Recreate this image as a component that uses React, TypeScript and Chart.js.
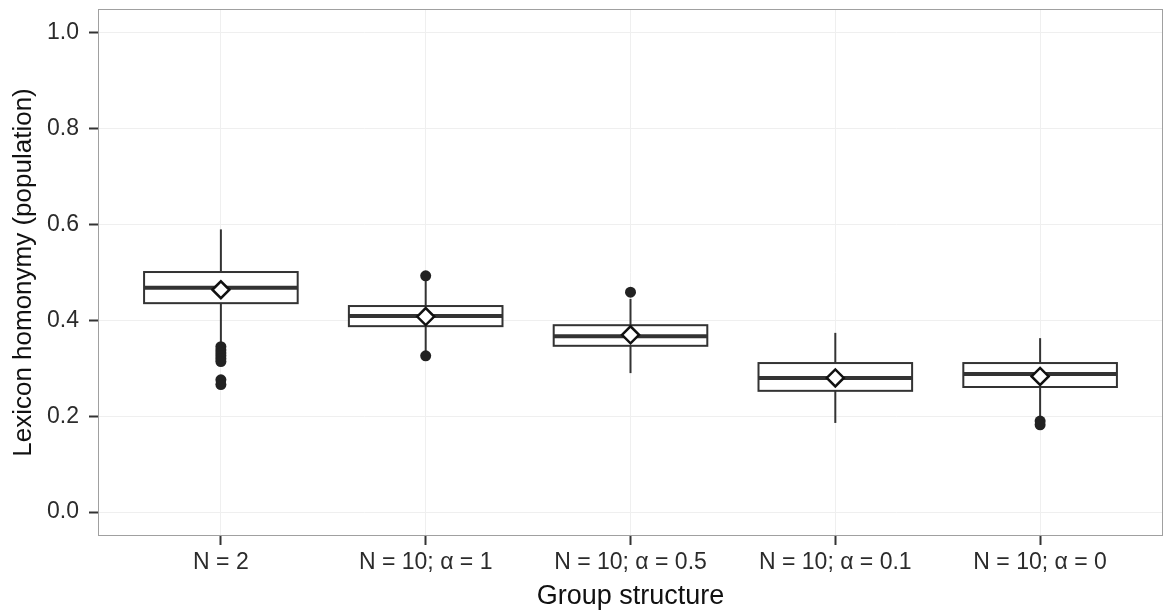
import React, { useEffect, useRef } from "react";
import { Chart, registerables } from "chart.js";

Chart.register(...registerables);

const categories = ["N = 2", "N = 10; α = 1", "N = 10; α = 0.5", "N = 10; α = 0.1", "N = 10; α = 0"];
const whiskerLow = [0.355, 0.335, 0.29, 0.186, 0.2];
const q1 = [0.436, 0.388, 0.347, 0.253, 0.261];
const medians = [0.468, 0.409, 0.367, 0.28, 0.288];
const q3 = [0.501, 0.43, 0.39, 0.311, 0.311];
const whiskerHigh = [0.59, 0.485, 0.445, 0.374, 0.363];
const means = [0.464, 0.408, 0.37, 0.28, 0.283];
const outliersN2 = [0.345, 0.338, 0.332, 0.326, 0.32, 0.314, 0.276, 0.266];
const outliersA1 = [0.493, 0.326];
const outliersA05 = [0.459];
const outliersA01: number[] = [];
const outliersA0 = [0.19, 0.182];
const yTicks = [0, 0.2, 0.4, 0.6, 0.8, 1.0];

const outlierGroups = [outliersN2, outliersA1, outliersA05, outliersA01, outliersA0];

const FONT = "'Liberation Sans', Arial, Helvetica, sans-serif";

const boxPlugin = {
  id: "boxes",
  beforeDatasetsDraw(chart: any) {
    const { ctx, chartArea, scales } = chart;
    const x = scales.x;
    const y = scales.y;
    ctx.save();
    ctx.strokeStyle = "#a0a0a0";
    ctx.lineWidth = 1;
    ctx.strokeRect(chartArea.left + 0.5, chartArea.top + 0.5, chartArea.right - chartArea.left - 1, chartArea.bottom - chartArea.top - 1);

    const line = (x1: number, y1: number, x2: number, y2: number) => {
      ctx.beginPath();
      ctx.moveTo(x1, y1);
      ctx.lineTo(x2, y2);
      ctx.stroke();
    };
    categories.forEach((_, i) => {
      const cx = x.getPixelForValue(i + 1);
      const l = x.getPixelForValue(i + 1 - 0.375);
      const r = x.getPixelForValue(i + 1 + 0.375);
      const yq1 = y.getPixelForValue(q1[i]);
      const yq3 = y.getPixelForValue(q3[i]);
      ctx.strokeStyle = "#333333";
      ctx.lineWidth = 2;
      line(cx, y.getPixelForValue(whiskerHigh[i]), cx, yq3);
      line(cx, yq1, cx, y.getPixelForValue(whiskerLow[i]));
      ctx.fillStyle = "#ffffff";
      ctx.fillRect(l, yq3, r - l, yq1 - yq3);
      ctx.strokeRect(l, yq3, r - l, yq1 - yq3);
      ctx.lineWidth = 4;
      const ym = y.getPixelForValue(medians[i]);
      line(l, ym, r, ym);
    });
    ctx.restore();
  },
};

export default function App() {
  const ref = useRef<HTMLCanvasElement | null>(null);
  useEffect(() => {
    if (!ref.current) return;
    const outlierData: { x: number; y: number }[] = [];
    outlierGroups.forEach((g, i) => g.forEach((v) => outlierData.push({ x: i + 1, y: v })));
    const meanData = means.map((v, i) => ({ x: i + 1, y: v }));
    const chart = new Chart(ref.current, {
      type: "scatter",
      data: {
        datasets: [
          {
            label: "Outliers",
            data: outlierData,
            pointRadius: 5.5,
            pointBackgroundColor: "#222222",
            pointBorderColor: "#222222",
            pointBorderWidth: 0,
          },
          {
            label: "Mean",
            data: meanData,
            pointStyle: "rectRot",
            pointRadius: 8.5,
            pointBackgroundColor: "#ffffff",
            pointBorderColor: "#111111",
            pointBorderWidth: 2.5,
          },
        ],
      },
      options: {
        animation: false,
        responsive: true,
        maintainAspectRatio: false,
        layout: { autoPadding: false, padding: { left: 0, top: 9, right: 6, bottom: 0 } },
        plugins: { legend: { display: false }, tooltip: { enabled: false } },
        scales: {
          x: {
            type: "linear",
            min: 0.4,
            max: 5.6,
            afterBuildTicks: (s: any) => {
              s.ticks = categories.map((_, i) => ({ value: i + 1 }));
            },
            afterFit: (s: any) => {
              s.height = 79;
              s.paddingLeft = 0;
              s.paddingRight = 0;
            },
            ticks: {
              callback: (v: any) => categories[Math.round(Number(v)) - 1] ?? "",
              font: { family: FONT, size: 23 },
              color: "#2b2b2b",
              padding: 4,
              maxRotation: 0,
              autoSkip: false,
            },
            grid: {
              color: "#efefef",
              lineWidth: 1,
              tickColor: "#333333",
              tickWidth: 2,
              tickLength: 9,
            },
            border: { display: false },
            title: {
              display: true,
              text: "Group structure",
              font: { family: FONT, size: 27 },
              color: "#111111",
              padding: { top: 0, bottom: 2 },
            },
          },
          y: {
            type: "linear",
            min: -0.05,
            max: 1.05,
            afterBuildTicks: (s: any) => {
              s.ticks = yTicks.map((v) => ({ value: v }));
            },
            afterFit: (s: any) => {
              s.width = 98;
              s.paddingTop = 0;
              s.paddingBottom = 0;
            },
            ticks: {
              callback: (v: any) => Number(v).toFixed(1),
              font: { family: FONT, size: 23 },
              color: "#2b2b2b",
              padding: 10,
            },
            grid: {
              color: "#efefef",
              lineWidth: 1,
              tickColor: "#333333",
              tickWidth: 2,
              tickLength: 9,
            },
            border: { display: false },
            title: {
              display: true,
              text: "Lexicon homonymy (population)",
              font: { family: FONT, size: 26 },
              color: "#111111",
              padding: { top: 8, bottom: 0 },
            },
          },
        },
      },
      plugins: [boxPlugin],
    });
    return () => chart.destroy();
  }, []);
  return (
    <div style={{ position: "fixed", left: 0, top: 0, width: 1169, height: 615, background: "#ffffff" }}>
      <canvas ref={ref} />
    </div>
  );
}
